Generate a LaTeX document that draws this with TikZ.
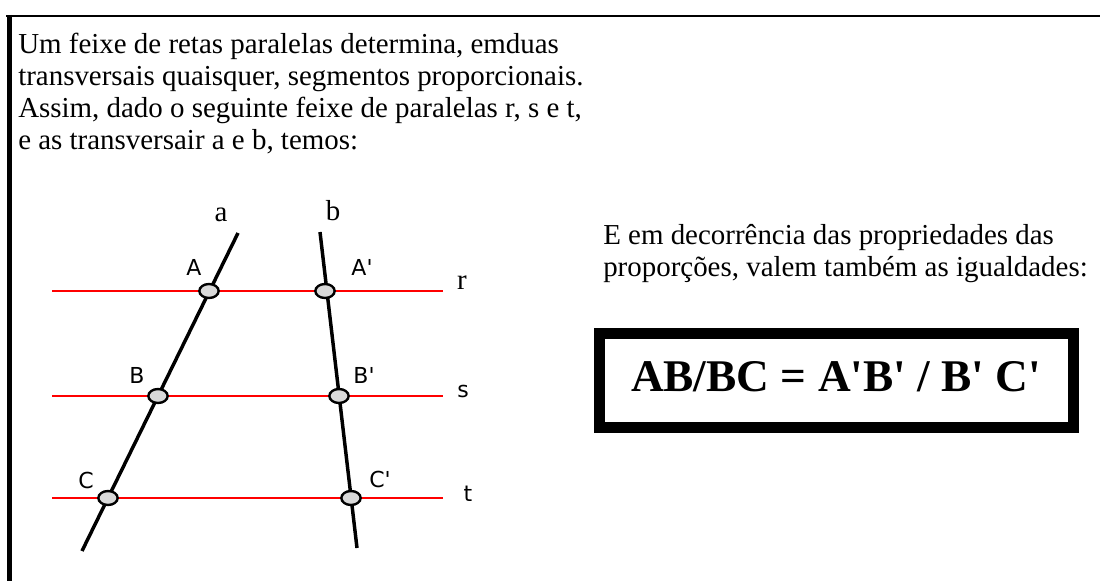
\documentclass[tikz,border=0pt]{standalone}
\usepackage{fontspec}
\setmainfont{Liberation Serif}
\newfontfamily\rotfont{DejaVu Sans}
\usetikzlibrary{shapes.geometric}
\tikzset{
  paralela/.style={color=red, line width=2.2pt},
  transversal/.style={color=black, line width=2.6pt},
  ponto/.style={ellipse, draw=black, fill=black!15, line width=1.8pt,
    minimum width=14.5pt, minimum height=10.5pt, inner sep=0pt},
  rotulo/.style={font=\rotfont\fontsize{16.5}{19}\selectfont, inner sep=0pt},
  nome/.style={font=\fontsize{21.7}{24}\selectfont, inner sep=0pt},
  paragrafo/.style={font=\fontsize{21.7}{24}\selectfont, align=left,
    anchor=north west, inner sep=0pt},
}
\begin{document}
\begin{tikzpicture}[x=0.75pt, y=-0.75pt]
    \useasboundingbox (0, 0) rectangle (1100, 581);
    % moldura
    \draw [line width=1.9pt] (6, 16) -- (1100, 16);
    \draw [line width=3.75pt] (9, 15) -- (9, 581);
    %
    \node [paragrafo] (intro) at (18, 33) {Um feixe de retas paralelas determina, emduas\\
      transversais quaisquer, segmentos proporcionais.\\
      Assim, dado o seguinte feixe de paralelas r, s e t,\\
      e as transversair a e b, temos:};
    %
    % paralelas r, s e t
    \coordinate (r1) at (52, 291);
    \coordinate (r2) at (443, 291);
    \coordinate (s1) at (52, 396);
    \coordinate (s2) at (443, 396);
    \coordinate (t1) at (52, 498);
    \coordinate (t2) at (443, 498);
    \draw [paralela] (r1) -- (r2);
    \draw [paralela] (s1) -- (s2);
    \draw [paralela] (t1) -- (t2);
    \node [nome] (r) at (462, 283) {r};
    \node [rotulo] (s) at (463, 391) {s};
    \node [rotulo] (t) at (468, 494) {t};
    %
    % transversais a e b
    \coordinate (a1) at (238, 233);
    \coordinate (a2) at (82, 551);
    \coordinate (b1) at (320, 232);
    \coordinate (b2) at (357, 548);
    \draw [transversal] (a1) -- (a2);
    \draw [transversal] (b1) -- (b2);
    \node [nome] (a) at (221, 215) {a};
    \node [nome] (b) at (333, 211) {b};
    %
    % pontos
    \node [ponto] (A) at (209, 291) {};
    \node [ponto] (B) at (158, 396) {};
    \node [ponto] (C) at (108, 498) {};
    \node [ponto] (A') at (325, 291) {};
    \node [ponto] (B') at (339, 396) {};
    \node [ponto] (C') at (351, 498) {};
    \node [rotulo] (lA) at (194, 267) {A};
    \node [rotulo] (lB) at (137, 375) {B};
    \node [rotulo] (lC) at (86, 480) {C};
    \node [rotulo] (lA') at (362, 267) {A\textquotesingle};
    \node [rotulo] (lB') at (364, 375) {B\textquotesingle};
    \node [rotulo] (lC') at (380, 479) {C\textquotesingle};
    %
    \node [paragrafo] (prop) at (603, 224) {E em decorrência das propriedades das\\
      proporções, valem também as igualdades:};
    %
    \node [draw, line width=8.25pt, minimum width=356pt, minimum height=70pt]
      (caixa) at (836.5, 380.5) {};
    \node [font=\bfseries\fontsize{34}{40}\selectfont, inner sep=0pt] (igual) at (836, 377)
      {AB/BC = A\textquotesingle B\textquotesingle{} / B\textquotesingle{} C\textquotesingle};
\end{tikzpicture}
\end{document}
